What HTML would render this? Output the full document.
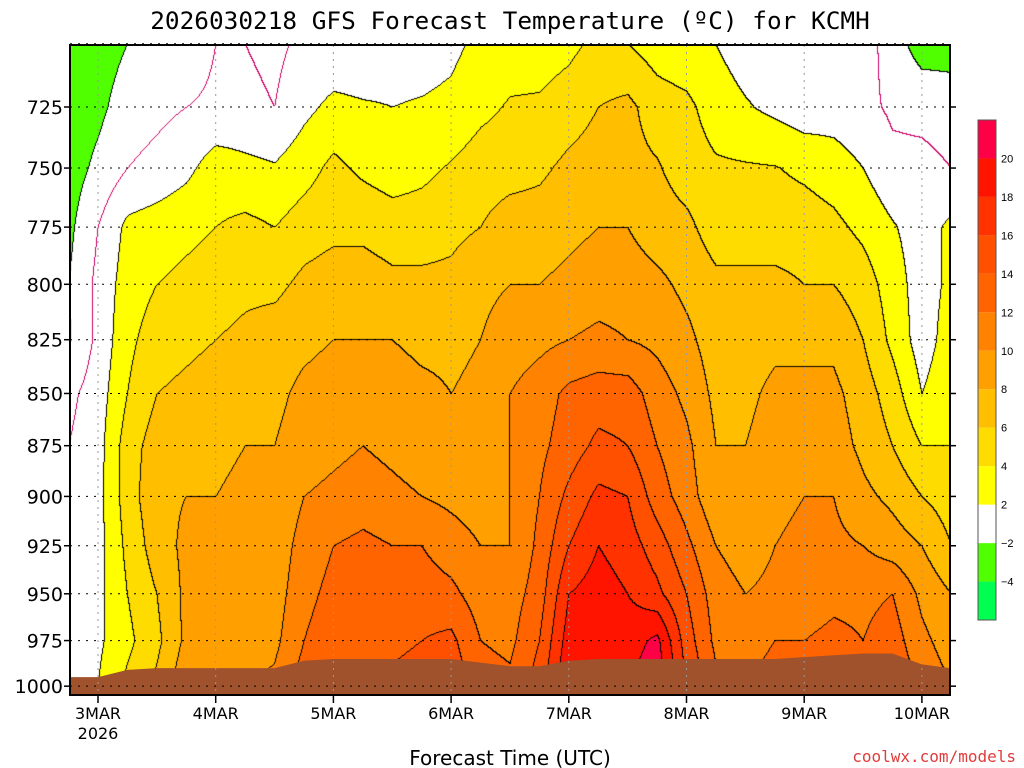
<!DOCTYPE html>
<html><head><meta charset="utf-8"><style>
body{margin:0;background:#fff;width:1024px;height:768px;overflow:hidden;font-family:"Liberation Sans",sans-serif}
#wrap{position:relative;width:1024px;height:768px}
canvas{position:absolute;left:70px;top:45px}
svg{position:absolute;left:0;top:0}
</style></head><body><div id="wrap">
<canvas id="cv" width="880" height="650"></canvas>
<svg id="sv" width="1024" height="768"></svg>
</div>
<script>
const levels=[700,725,750,775,800,825,850,875,900,925,950,975,1000];
const dayLabels=["3MAR","4MAR","5MAR","6MAR","7MAR","8MAR","9MAR","10MAR"];
const cbLabels=[20,18,16,14,12,10,8,6,4,2,-2,-4];
const t700=[-4,-3,-2,-1,-1,0,0,-0.5,0.5,0.5,0.5,1,1,1.5,2.5,3,3,3.5,4.5,4,3,2.5,2,1,1,0.5,0.5,1,-1,-3,-3];
const t725=[-3.5,-2.5,-1,-0.5,0,0.3,0.5,0,1.5,2.5,2.2,2,2.2,2.5,3.5,4.2,4.3,5,6,6.5,5,4.5,3,2.2,1.5,0.8,1,0.5,-0.3,-0.5,-0.8];
const t750=[-3,-1.5,0,0.6,1.5,3,2.5,2.2,3.2,4.5,3.6,3,3.5,4.2,5,5.2,5.6,6.5,7,6.6,6.2,5,4.3,4.2,4.1,3.6,3,2,0.5,0.5,0];
const t775=[-2.5,0,2.5,3,3.5,4,4.5,4,5,5.5,5.5,5,5,5.5,6,7,7,7.5,8,8,7,6.5,5,5,5,5,4.5,3.5,2.2,1,2.5];
const t800=[-2,0.5,3,4,4.5,5,5.5,5.5,6.5,7,7,6.5,6.5,6.5,7.5,8,8,8.5,9,9,8.5,7.5,6.5,6.5,6.5,6,6,5,3,1,2.5];
const t825=[-2.2,0.5,3.5,5,5.5,6,6.5,7,7.5,8,8,8,7.5,7.5,8,9,9.5,10,10.5,10,9.5,8.5,7,7,7.5,7.5,7.5,6,3.5,1,3];
const t850=[-0.5,1,4,6,6.5,7,7.5,7.5,8.5,9,9,9,8.5,8,8.5,10,11,12.5,13,13,11,9.5,7.5,7.5,8.5,8.5,8.5,7,5,2,3.5];
const t875=[0,1.2,5,7,7.5,7.5,8,8,9,9.5,10,9.5,9,8.5,8.5,10,11.5,13,14.5,14,12,10.5,8,8,9,9.5,9,7.5,6,4,4];
const t900=[0.3,1.3,5,7.5,8,8,8.5,8,10,10.5,11,10.5,10,9.5,9,10,12,14.5,16.5,16,13,11,8.5,8,9.5,10,10,8.5,7.5,6,5];
const t925=[0.3,1.3,4.5,7,8.5,8.5,8.5,8.5,11,12,12.5,12,12,11,10,10,12.5,16,18,17,15,12.5,10,9,10,10.5,10.5,10,9,8,6];
const t950=[0.3,1.4,4,6,8.5,9,8.5,9,11.5,12.5,13,13,13,12.5,11,11,13,18,19,18,16.5,14,11,10,10.5,11,11.5,11.5,12,9.5,8];
const t975=[0.3,1.6,3.5,5.5,8.5,9,9,9.5,12,13,13.5,13.5,14,14.5,12,11.5,14,19,19.5,19,20.5,15,11.5,11,12,12,12.5,12,13,10.5,9];
const t1000=[0.5,2,4.5,6.5,9.5,10,10,10.5,13,14,14.5,14.5,15,15.5,13,12.5,15,20,20.5,20,21.5,16,12.5,12,13,13,13.5,13,14,11.5,10];
const surfP=[995,995,991,990,990,990,990,990,986,985,985,985,985,985,987,989,989,986,985,985,985,985,985,985,985,984,983,982,982,988,990];
const field=[t700,t725,t750,t775,t800,t825,t850,t875,t900,t925,t950,t975,t1000];

const X0=70,X1=950,Y0=45,Y1=695,PXD=117.7,DAY0X=98;
const tStart=-0.25;
function xOfT(d){return DAY0X+d*PXD;}
function xOfI(i){return xOfT(tStart+i*0.25);}
function yOfP(p){return 107+(Math.log(p)-Math.log(725))*1801;}
const bandCols=["#00ff50","#50ff00","#ffffff","#ffff00","#ffdc00","#ffbe00","#ffa000","#ff8200","#ff6400","#ff5000","#ff3200","#ff1400","#ff0046"];
const bandEdges=[-4,-2,2,4,6,8,10,12,14,16,18,20];
function band(v){let b=0;while(b<bandEdges.length&&v>=bandEdges[b])b++;return b;}
function hex(c){return [parseInt(c.substr(1,2),16),parseInt(c.substr(3,2),16),parseInt(c.substr(5,2),16)];}
const rgb=bandCols.map(hex);
const ly=levels.map(yOfP);
function sample(px,py){
  const n=field[0].length;
  let fi=(px-xOfI(0))/(xOfI(1)-xOfI(0));fi=Math.max(0,Math.min(n-1.0001,fi));
  const i=Math.floor(fi),fx=fi-i;
  let j=0;while(j<ly.length-2&&py>ly[j+1])j++;
  let fy=(py-ly[j])/(ly[j+1]-ly[j]);fy=Math.max(0,Math.min(1,fy));
  const a=field[j][i]*(1-fx)+field[j][i+1]*fx;
  const b=field[j+1][i]*(1-fx)+field[j+1][i+1]*fx;
  return a*(1-fy)+b*fy;
}
const cv=document.getElementById('cv'),ctx=cv.getContext('2d');
const W=880,H=650,img=ctx.createImageData(W,H);
const val=new Float32Array(W*H),bd=new Int8Array(W*H);
for(let y=0;y<H;y++)for(let x=0;x<W;x++){const v=sample(x+X0,y+Y0);val[y*W+x]=v;bd[y*W+x]=band(v);}
for(let y=0;y<H;y++)for(let x=0;x<W;x++){
  const k=y*W+x;let c=rgb[bd[k]];
  const v=val[k];
  let line=false,zero=false;
  if(x<W-1){const v2=val[k+1];if(Math.floor(v/2)!==Math.floor(v2/2)){line=true;if((v<0)!==(v2<0))zero=true;}}
  if(y<H-1){const v2=val[k+W];if(Math.floor(v/2)!==Math.floor(v2/2)){line=true;if((v<0)!==(v2<0))zero=true;}}
  if(zero)c=[204,0,102];else if(line)c=[0,0,0];
  img.data[k*4]=c[0];img.data[k*4+1]=c[1];img.data[k*4+2]=c[2];img.data[k*4+3]=255;
}
ctx.putImageData(img,0,0);

const NS="http://www.w3.org/2000/svg",sv=document.getElementById('sv');
function el(t,a,txt){const e=document.createElementNS(NS,t);for(const k in a)e.setAttribute(k,a[k]);if(txt!==undefined)e.textContent=txt;sv.appendChild(e);return e;}
let pts=[];for(let i=0;i<surfP.length;i++){pts.push(Math.max(X0,Math.min(X1,xOfI(i)))+","+yOfP(surfP[i]));}
pts.push(X1+","+Y1,X0+","+Y1);
const g=el('polygon',{points:pts.join(' '),fill:'#a0522d'});


levels.forEach(p=>{const y=yOfP(p);
  const l=el('line',{x1:X0,x2:X1,y1:y,y2:y,stroke:'#000','stroke-dasharray':'2,6','stroke-width':1});
  
  
  if(p>700){
  const t=el('text',{x:63,y:y+7,'text-anchor':'end','font-size':19,fill:'#000','font-family':'DejaVu Sans, sans-serif'},String(p));
  
  
  el('line',{x1:X0-6,x2:X0,y1:y,y2:y,stroke:'#000','stroke-width':1.5});
  el('line',{x1:X1,x2:X1+6,y1:y,y2:y,stroke:'#000','stroke-width':1.5});
  }
});
dayLabels.forEach((d,i)=>{const x=xOfT(i);
  const l=el('line',{x1:x,x2:x,y1:Y0,y2:Y1,stroke:'#999','stroke-dasharray':'2,5','stroke-width':1});
  
  
  el('line',{x1:x,x2:x,y1:Y1,y2:Y1+8,stroke:'#000','stroke-width':1.5});
  const t=el('text',{x:x,y:719,'text-anchor':'middle','font-size':16,fill:'#000','font-family':'DejaVu Sans, sans-serif'},d);
  
  
});
const yr=el('text',{x:98,y:739,'text-anchor':'middle','font-size':16,'font-family':'DejaVu Sans, sans-serif'},"2026");


const fr=el('rect',{x:X0,y:Y0,width:X1-X0,height:Y1-Y0,fill:'none',stroke:'#000','stroke-width':2});


const cbTop=120,cbH=500,bh=cbH/bandCols.length;
for(let b=0;b<bandCols.length;b++){
  const r=el('rect',{x:978,y:cbTop+cbH-(b+1)*bh,width:18,height:bh,fill:bandCols[b]});
  
  
}
el('rect',{x:978,y:cbTop,width:18,height:cbH,fill:'none',stroke:'#555','stroke-width':1});
cbLabels.forEach((v,i)=>{const y=cbTop+(i+1)*bh;
  const t=el('text',{x:1001,y:y+4,'font-size':11},v<0?'\u2212'+(-v):String(v));
  
  
});
const ti=el('text',{x:510,y:29,'text-anchor':'middle','font-size':24.4,fill:'#000','font-family':'DejaVu Sans Mono, Liberation Mono, monospace'},"2026030218 GFS Forecast Temperature (\u00baC) for KCMH");


const xt=el('text',{x:510,y:765,'text-anchor':'middle','font-size':20,'font-family':'DejaVu Sans, sans-serif'},"Forecast Time (UTC)");


const cr=el('text',{x:1016,y:762,'text-anchor':'end','font-size':16,fill:'#e03c3c','font-family':'DejaVu Sans Mono, monospace'},"coolwx.com/models");


</script></body></html>
